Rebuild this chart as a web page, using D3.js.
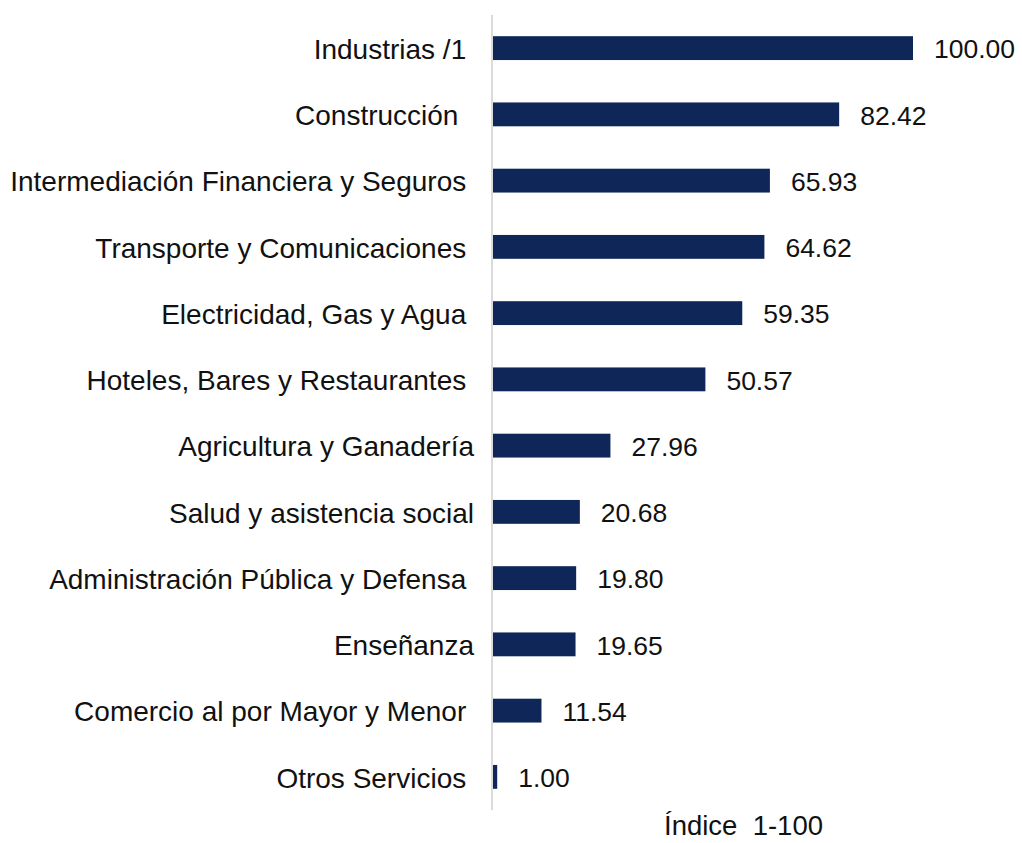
<!DOCTYPE html>
<html>
<head>
<meta charset="utf-8">
<script src="https://cdn.jsdelivr.net/npm/d3@7"></script>
<style>
  body { margin: 0; background: #fff; }
  text { font-family: "Liberation Sans", Arial, Helvetica, sans-serif; white-space: pre; }
</style>
</head>
<body>
<div id="chart"></div>
<script>
// categories (trailing spaces kept as in the original labels)
const categories = [
  "Industrias /1 ",
  "Construcción  ",
  "Intermediación Financiera y Seguros ",
  "Transporte y Comunicaciones ",
  "Electricidad, Gas y Agua ",
  "Hoteles, Bares y Restaurantes ",
  "Agricultura y Ganadería",
  "Salud y asistencia social",
  "Administración Pública y Defensa ",
  "Enseñanza",
  "Comercio al por Mayor y Menor ",
  "Otros Servicios "
];
const values = [100.00, 82.42, 65.93, 64.62, 59.35, 50.57, 27.96, 20.68, 19.80, 19.65, 11.54, 1.00];
const axisTitle = "Índice  1-100";

const width = 1022, height = 843;
const x0 = 493;

const svg = d3.select("#chart")
    .append("svg")
    .attr("width", width)
    .attr("height", height);

const x = d3.scaleLinear()
    .domain([0, 100])
    .range([x0, 913]);

const y = d3.scaleBand()
    .domain(categories)
    .range([15, 810])
    .paddingInner(0.64)
    .paddingOuter(0.32);

// vertical axis line
svg.append("line")
    .attr("x1", x0 - 1).attr("x2", x0 - 1)
    .attr("y1", 15).attr("y2", 810)
    .attr("stroke", "#cfcfcf")
    .attr("stroke-width", 1.5);

// bars
svg.selectAll(".bar")
    .data(values)
    .enter()
    .append("rect")
    .attr("class", "bar")
    .attr("x", x(0))
    .attr("y", (d, i) => y(categories[i]))
    .attr("width", d => x(d) - x(0))
    .attr("height", y.bandwidth())
    .attr("fill", "#0e2658");

// category labels
svg.selectAll(".cat")
    .data(categories)
    .enter()
    .append("text")
    .attr("class", "cat")
    .attr("x", 474)
    .attr("y", d => y(d) + y.bandwidth() / 2 + 1)
    .attr("dy", "0.35em")
    .attr("text-anchor", "end")
    .attr("font-size", 28)
    .attr("fill", "#111")
    .text(d => d);

// value labels
svg.selectAll(".val")
    .data(values)
    .enter()
    .append("text")
    .attr("class", "val")
    .attr("x", d => x(d) + 21)
    .attr("y", (d, i) => y(categories[i]) + y.bandwidth() / 2 + 1)
    .attr("dy", "0.35em")
    .attr("font-size", 26.5)
    .attr("fill", "#111")
    .text(d => d.toFixed(2));

// axis title
svg.append("text")
    .attr("x", 664)
    .attr("y", 835)
    .attr("font-size", 27.5)
    .attr("fill", "#111")
    .text(axisTitle);
</script>
</body>
</html>
